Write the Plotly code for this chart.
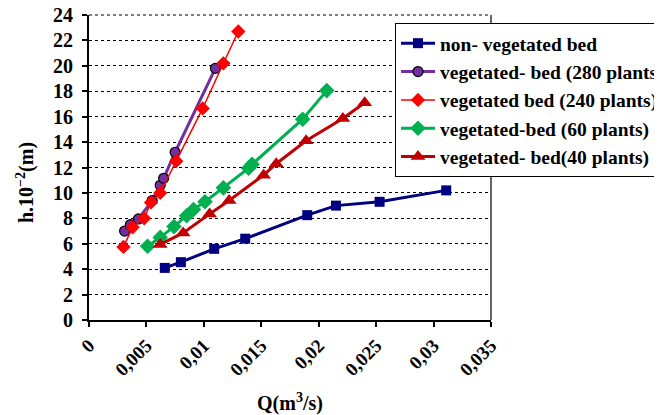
import plotly.graph_objects as go

# ---- data ----
x_tickvals = [0, 0.005, 0.01, 0.015, 0.02, 0.025, 0.03, 0.035]
x_ticktext = ["0", "0,005", "0,01", "0,015", "0,02", "0,025", "0,03", "0,035"]
y_tickvals = [0, 2, 4, 6, 8, 10, 12, 14, 16, 18, 20, 22, 24]

series_names = [
    "non- vegetated bed",
    "vegetated- bed (280 plants)",
    "vegetated bed (240 plants)",
    "vegetated-bed (60 plants)",
    "vegetated- bed(40 plants)",
]

blue_q = [0.0066, 0.0080, 0.0109, 0.0136, 0.0190, 0.0215, 0.0253, 0.0311]
blue_h = [4.1, 4.55, 5.6, 6.4, 8.25, 9.0, 9.3, 10.2]

purple_q = [0.0031, 0.0036, 0.0043, 0.0055, 0.0062, 0.0065, 0.0075, 0.0110]
purple_h = [7.0, 7.5, 7.95, 9.4, 10.6, 11.15, 13.2, 19.8]

red_q = [0.0030, 0.0038, 0.0048, 0.0054, 0.0062, 0.0076, 0.0099, 0.0117, 0.0130]
red_h = [5.75, 7.3, 8.0, 9.25, 10.0, 12.5, 16.65, 20.2, 22.7]

green_q = [0.0051, 0.0062, 0.0074, 0.0085, 0.0091, 0.0101, 0.0117, 0.0139, 0.0142, 0.0186, 0.0207]
green_h = [5.8, 6.5, 7.35, 8.2, 8.7, 9.3, 10.4, 11.95, 12.25, 15.8, 18.05]

darkred_q = [0.0062, 0.0082, 0.0105, 0.0122, 0.0152, 0.0163, 0.0189, 0.0221, 0.0240]
darkred_h = [5.95, 6.85, 8.35, 9.4, 11.4, 12.3, 14.1, 15.85, 17.1]

FONT = "Liberation Serif"

# page body has an 8px margin: figure is placed at (8, 8)
OFF = 8
W, H = 662 - OFF, 415 - OFF
PL, PR, PT, PB = 89 - OFF, 491 - OFF, 15 - OFF, 320 - OFF


def px_x(px):
    return (px - OFF - PL) / (PR - PL)


def px_y(py):
    return (PB - (py - OFF)) / (PB - PT)


fig = go.Figure()

fig.add_trace(go.Scatter(
    x=blue_q, y=blue_h, name=series_names[0], mode="lines+markers",
    line=dict(color="#000080", width=3),
    marker=dict(symbol="square", size=10, color="#000080"),
))
fig.add_trace(go.Scatter(
    x=purple_q, y=purple_h, name=series_names[1], mode="lines+markers",
    line=dict(color="#7030A0", width=3),
    marker=dict(symbol="circle", size=10, color="#7030A0",
                line=dict(color="#000000", width=1.2)),
))
fig.add_trace(go.Scatter(
    x=red_q, y=red_h, name=series_names[2], mode="lines+markers",
    line=dict(color="#FF0000", width=1.5),
    marker=dict(symbol="diamond", size=11, color="#FF0000"),
))
fig.add_trace(go.Scatter(
    x=green_q, y=green_h, name=series_names[3], mode="lines+markers",
    line=dict(color="#00B050", width=3),
    marker=dict(symbol="diamond", size=12, color="#00B050"),
))
fig.add_trace(go.Scatter(
    x=darkred_q, y=darkred_h, name=series_names[4], mode="lines+markers",
    line=dict(color="#C00000", width=3),
    marker=dict(symbol="triangle-up", size=13, color="#C00000"),
))

fig.update_layout(
    width=W, height=H,
    margin=dict(l=PL, r=W - PR, t=PT, b=H - PB, autoexpand=False),
    paper_bgcolor="white", plot_bgcolor="white",
    font=dict(family=FONT, color="black"),
    showlegend=True,
    legend=dict(
        x=px_x(395), y=px_y(23), xanchor="left", yanchor="top",
        bgcolor="white", bordercolor="black", borderwidth=1,
        font=dict(family=FONT, size=19.5, color="black", weight="bold"),
        tracegroupgap=0, itemwidth=34,
    ),
    xaxis=dict(
        range=[0, 0.035], tickvals=x_tickvals, ticktext=x_ticktext,
        tickangle=-45, tickfont=dict(family=FONT, size=19, weight="bold"),
        showgrid=False, zeroline=False,
        showline=True, linecolor="black", linewidth=2,
        ticks="outside", ticklen=5, tickcolor="black", tickwidth=1.5,
        ticklabeloverflow="allow",
    ),
    yaxis=dict(
        range=[0, 24], tickvals=y_tickvals,
        tickfont=dict(family=FONT, size=20, weight="bold"),
        showgrid=True, gridcolor="black", gridwidth=1, griddash="dot",
        zeroline=False,
        showline=True, linecolor="black", linewidth=2,
        ticks="outside", ticklen=5, tickcolor="black", tickwidth=1.5,
        ticklabelstandoff=5, ticklabeloverflow="allow",
    ),
    shapes=[
        dict(type="line", xref="paper", yref="paper", x0=1, x1=1, y0=0, y1=1,
             line=dict(color="#333333", width=1.5)),
        dict(type="line", xref="paper", yref="paper", x0=0, x1=1, y0=1, y1=1,
             line=dict(color="black", width=1, dash="dot"), layer="below"),
    ],
    annotations=[
        dict(
            text="h.10<sup>−2</sup>(m)", xref="paper", yref="paper",
            x=px_x(25), y=px_y(183), xanchor="center", yanchor="middle",
            textangle=-90, showarrow=False,
            font=dict(family=FONT, size=20, color="black", weight="bold"),
        ),
        dict(
            text="Q(m<sup>3</sup>/s)", xref="paper", yref="paper",
            x=px_x(290), y=px_y(402), xanchor="center", yanchor="middle",
            showarrow=False,
            font=dict(family=FONT, size=20, color="black", weight="bold"),
        ),
    ],
)

fig.write_html("out.html")
